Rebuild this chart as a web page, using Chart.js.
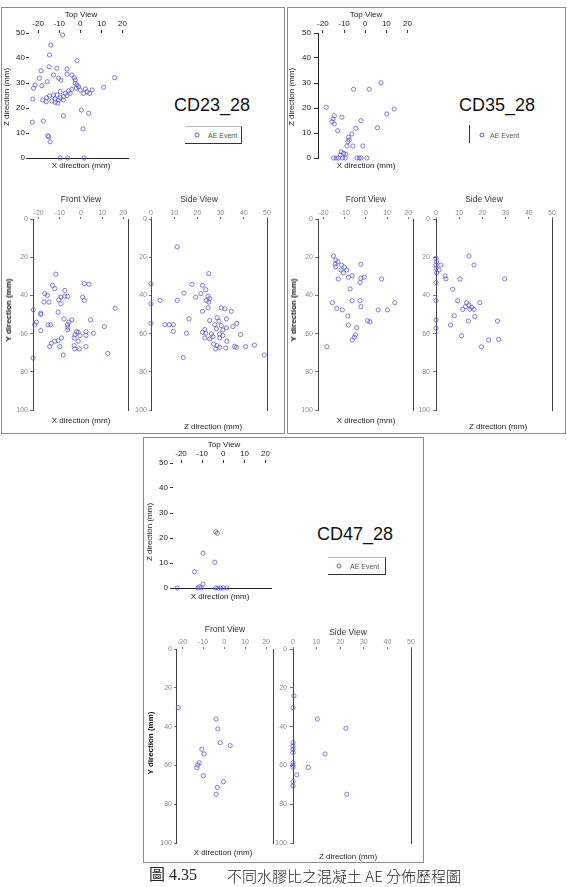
<!DOCTYPE html>
<html><head><meta charset="utf-8">
<script src="https://cdn.jsdelivr.net/npm/chart.js@4.4.1/dist/chart.umd.min.js"></script>
<style>
html,body{margin:0;padding:0;background:#fff;}
#page{position:relative;width:567px;height:887px;overflow:hidden;font-family:"Liberation Sans",Arial,sans-serif;background:#fff;}
.t{position:absolute;transform:translate(-50%,-50%);white-space:nowrap;line-height:1;}
.r{position:absolute;transform:translate(-50%,-50%) rotate(-90deg);white-space:nowrap;line-height:1;}
.panel{position:absolute;border:1px solid #8c8c8c;box-sizing:border-box;}
canvas{position:absolute;}
.lg{position:absolute;box-sizing:border-box;}
.mk{position:absolute;width:3px;height:3px;border:1px solid #5a5ae0;border-radius:50%;transform:translate(-50%,-50%);}
.lt{position:absolute;font-size:7px;color:#555;transform:translateY(-50%);white-space:nowrap;}
</style></head><body><div id="page"></div>
<script>
// ---------- data ----------
const specimens = ['CD23_28', 'CD35_28', 'CD47_28'];
const legendLabel = 'AE Event';
const viewTitles = ['Top View', 'Front View', 'Side View'];
const axisTitles = ['X direction (mm)', 'Y direction (mm)', 'Z direction (mm)'];
const xTicks = [-20, -10, 0, 10, 20];
const zTicks = [0, 10, 20, 30, 40, 50];
const yTicks = [0, 20, 40, 60, 80, 100];
const captionNo = '圖 4.35';
const captionText = '不同水膠比之混凝土 AE 分佈歷程圖';

// CD23_28 : top view (X, Z)
const cd23Top = [[-8.4,49.2],[-14,45.2],[-14.6,41.2],[-1.6,38.9],[-14.8,36.5],[-11.1,35.9],[-18.6,34.9],[-6.3,35.6],[-12.7,33.2],[-6.3,33.5],[-4,33.2],[-19.4,31.9],[-2.9,32.1],[-10.3,31.9],[-9.2,31.2],[-2.4,31.2],[-15.6,30.5],[16.3,32.1],[-2.4,29.9],[-21.4,29.2],[-18.2,28.9],[-22.2,27.9],[-1.6,29.2],[-0.8,28.5],[-1.9,27.9],[0,27.2],[11.1,28.3],[2.4,27.6],[5.6,27.2],[3.2,26.5],[4.4,25.9],[1.6,25.9],[-4,27.5],[-5.6,26.8],[-4.8,25.9],[-7.1,25.9],[-9.5,26.5],[-6.3,24.9],[-8,24.5],[-11.1,25.2],[-9.5,24.1],[-12.7,25.2],[-14.6,24.8],[-15.9,24.1],[-11.9,23.6],[-10.3,23.2],[-13.5,22.8],[-16.2,22.5],[-11.9,22.3],[-8,23.2],[-17.8,23.2],[-22.5,23.6],[-10.6,21.9],[0.5,19.2],[4,17.9],[-8,16.9],[-17.5,14.8],[-22.7,14.3],[1.3,11.6],[-15.4,8.9],[-15,8.5],[-14.3,6.5],[-9.5,0],[-6,0],[1.9,0]];
// CD23_28 : front view (X, Y)
const cd23Front = [[-11.9,28.9],[1.6,33.8],[3.8,34.2],[-13.5,34.7],[-12.4,36.5],[-7.6,37.4],[-17.1,39.1],[-15.9,40],[-9.5,40.9],[-7.6,40.5],[-6.3,40.5],[-10.5,42.3],[0.8,40.9],[1.6,42.6],[-17.5,43.5],[-15.1,43.5],[-9.5,44.4],[-22.5,47.5],[16.2,46.7],[-19,49.3],[-19,50],[-10.8,48.8],[-8,52.3],[-4.4,52.8],[-5.7,54],[4.6,52.8],[-21.1,54],[-21.9,55.3],[-15.6,55.4],[-14.3,55.4],[-6.3,55.3],[-6.3,56.7],[-6.3,58],[11.1,56.3],[-19,58.4],[-2,59],[-1.3,59.3],[2.4,59],[5.9,59.8],[-2.9,60.5],[-0.5,61],[2.4,61],[-9.2,62.3],[-3.2,62.3],[-10.8,63.7],[-12.4,64],[-1.3,64],[-14,65.1],[-10,66.8],[-14.8,66.8],[-3.2,66.3],[2.4,66.8],[-2.9,68],[-0.8,68],[-8.4,71.2],[12.7,70.4],[-22.7,72.8]];
// CD23_28 : side view (Z, Y)
const cd23Side = [[11.3,14.6],[24.9,28.6],[0,33.9],[17.7,34.2],[22.2,34.7],[23.6,37],[14.2,38.8],[21.5,39.1],[19.3,40.9],[24.6,40.5],[25.3,41.7],[23.9,42.6],[24.9,43.5],[3.9,42.6],[11.3,42.6],[0,44.4],[24.6,46.5],[30.3,46.5],[31.8,47],[34.6,48.3],[22.2,48.3],[16.4,52.3],[25.3,53.2],[28.5,51.7],[29.3,53.5],[32.5,52.3],[0,54.6],[6,55.3],[7.9,55.3],[9.6,55.3],[9.6,58.8],[15.3,59.8],[27.5,55.3],[30.3,55.8],[37,54.6],[35.3,56.3],[23.2,57.9],[28.2,57.5],[31,58.1],[32.5,57],[22.2,59.3],[23.6,59.8],[26.1,60.2],[26.7,61.6],[29.6,60.2],[31,61],[38.6,60.5],[23.2,62.3],[25.3,62.8],[29.6,62.3],[32.7,64],[27,65.4],[28.5,66.3],[29.6,67.2],[32.2,67.5],[36,66.7],[36.8,67.2],[40.8,66.8],[44.6,66],[27.9,68],[48.8,71.2],[13.9,72.5]];

// CD35_28
const cd35Top = [[-5.5,27.5],[1.9,27.5],[7.5,30.1],[-18.4,20.3],[13.7,19.6],[10.2,17.6],[-14.6,16.9],[-11,16.3],[-15.2,15.6],[-15.7,14.5],[-14.6,13.6],[-2,14.9],[-4.4,11.9],[5.8,12.1],[-13,10.9],[-6.3,9.6],[-7.9,8.3],[-7.5,7.2],[-8.2,6.5],[-8.6,4.8],[-5.8,4.8],[-1.1,4.8],[-11.3,2.5],[-10.2,1.9],[-9.1,1.5],[-11.8,1.2],[-14.9,0],[-13.7,0],[-12.6,0],[-10.7,0],[-9.4,0],[-3.9,0],[-2.8,0],[-1.9,0],[0.8,0]];
const cd35Front = [[-15.4,19.4],[-14.3,21.5],[-13.3,22.4],[-14.6,23.6],[-14.3,25],[-11.5,24.1],[-10.2,25.3],[-11.8,26.7],[-9.1,26.7],[-10.7,28.1],[-2.4,23.7],[-13.1,31.4],[-8.3,30.5],[-6.5,29.7],[-2.4,31],[-0.8,30.5],[-2.8,33.3],[7.4,31.4],[-7.5,36.6],[-15.9,43.8],[-6.5,42.8],[-2.8,42.8],[13.7,43.8],[-13.8,46.8],[-11.2,47.6],[-2.4,45.9],[5.8,47.6],[10.2,47.6],[-8.6,50.8],[0.8,53.2],[1.9,53.8],[-8.3,55.5],[-4.4,56.9],[-4.9,60.7],[-5.5,61.9],[-6.5,63.4],[-18.5,66.9]];
const cd35Side = [[14.2,19.4],[16.4,24.1],[0,20.6],[0.3,22.4],[0,24.1],[2.1,24.1],[0,25.8],[1.3,26.7],[0.3,28.1],[3.9,29.8],[4.3,31.4],[10.3,31.4],[29.6,31.4],[0,33.3],[7.2,36.8],[9.3,42.8],[0,42.8],[13.2,43.8],[14.2,45],[12.7,45.9],[15.3,46.2],[16.4,47.3],[14.6,47.3],[18.9,43.8],[11.5,47.3],[7.9,50.6],[16.7,51.1],[0,52.9],[0,57.2],[13.9,53.4],[6.3,55.5],[26.5,53.4],[11,61.1],[22.7,63.4],[27,63],[19.6,66.9]];

// CD47_28
const cd47Top = [[-3.6,22.5],[-2.8,21.9],[-9.6,13.9],[-4,10.3],[-13.6,6.5],[-9.6,1.6],[-11.2,0.5],[-10.4,0.1],[-21.8,0],[-12,0],[-3.6,0],[-2.5,0],[-1.3,0],[-0.1,0],[1.8,0]];
const cd47Front = [[-21.8,30.2],[-3.8,36.1],[-3,41.2],[-1.8,48.3],[2.9,49.8],[-10.6,51.7],[-9.5,54.1],[-11.8,58.6],[-12.5,59.8],[-13,61.2],[-9.9,65.3],[-0.3,68.4],[-3.2,71.3],[-3.8,74.9]];
const cd47Side = [[0.4,24.1],[0,30.2],[10.3,36.1],[22.4,40.9],[0,48.3],[0,50],[0,51.7],[0,53.4],[13.6,54.1],[0,58.6],[0,59.8],[0,61],[6.5,61],[1.6,64.9],[0,68.4],[0,70.6],[22.8,74.9]];

// ---------- layout ----------
const FONT = '"Liberation Sans", Arial, sans-serif';
const page = document.getElementById('page');
const MARK = '#5a5ae0';

function addText(txt, x, y, size, color, rot, extra) {
  const d = document.createElement('div');
  d.className = rot ? 'r' : 't';
  d.textContent = txt;
  d.style.left = x + 'px'; d.style.top = y + 'px';
  d.style.fontSize = size + 'px'; d.style.color = color;
  if (extra) Object.assign(d.style, extra);
  page.appendChild(d);
}
function addPanel(x, y, w, h) {
  const d = document.createElement('div');
  d.className = 'panel';
  Object.assign(d.style, {left: x + 'px', top: y + 'px', width: w + 'px', height: h + 'px'});
  page.appendChild(d);
}

const toPts = arr => arr.map(p => ({x: p[0], y: p[1]}));

function plot(o) {
  const padR = 8, padB = 9;
  const W = (o.R - o.L) + o.padL + padR;
  const H = (o.B - o.T) + o.padT + padB;
  const cv = document.createElement('canvas');
  cv.width = W; cv.height = H;
  cv.style.left = (o.L - o.padL) + 'px'; cv.style.top = (o.T - o.padT) + 'px';
  cv.style.width = W + 'px'; cv.style.height = H + 'px';
  page.appendChild(cv);
  const tickFont = {family: FONT, size: o.fs};
  new Chart(cv.getContext('2d'), {
    type: 'scatter',
    data: {datasets: [{label: legendLabel, data: toPts(o.data), pointRadius: 2.1, pointBorderWidth: 0.8,
      borderColor: MARK, pointBorderColor: MARK, backgroundColor: 'rgba(255,255,255,0)', pointBackgroundColor: 'rgba(255,255,255,0)', clip: false}]},
    options: {
      responsive: false, maintainAspectRatio: false, animation: false, devicePixelRatio: 1, events: [],
      layout: {padding: {left: 0, top: 0, right: padR, bottom: padB}},
      plugins: {legend: {display: false}, tooltip: {enabled: false}, title: {display: false}},
      scales: {
        x: {type: 'linear', position: 'top', min: o.xMin, max: o.xMax,
          afterBuildTicks: s => { s.ticks = o.xT.map(v => ({value: v})); },
          afterFit: s => { s.height = o.padT; },
          ticks: {autoSkip: false, maxRotation: 0, minRotation: 0, padding: o.xPad, color: o.lc, font: tickFont},
          grid: {display: true, drawOnChartArea: false, drawTicks: true, tickLength: o.xTl, color: o.tc, lineWidth: 1},
          border: {display: false}},
        y: {type: 'linear', position: 'left', reverse: !!o.rev, min: o.yMin, max: o.yMax,
          afterBuildTicks: s => { s.ticks = o.yT.map(v => ({value: v})); },
          afterFit: s => { s.width = o.padL; },
          ticks: {autoSkip: false, padding: o.yPad, color: o.lc, font: tickFont},
          grid: {display: true, drawOnChartArea: false, drawTicks: true, tickLength: o.yTl, color: o.tc, lineWidth: 1},
          border: {display: !!o.left, color: o.bc, width: 1}},
        x2: {axis: 'x', type: 'linear', position: 'bottom', display: !!o.bottom, min: 0, max: 1,
          afterFit: s => { s.height = 0; },
          ticks: {display: false}, grid: {display: false, drawTicks: false},
          border: {display: true, color: o.bc, width: 1}},
        y2: {axis: 'y', type: 'linear', position: 'right', display: !!o.right, min: 0, max: 1,
          afterFit: s => { s.width = 0; },
          ticks: {display: false}, grid: {display: false, drawTicks: false},
          border: {display: true, color: o.bc, width: 1}}
      }
    }
  });
}

// panels
addPanel(1, 7, 284, 427);
addPanel(287, 7, 279, 427);
addPanel(143, 437, 281, 426);

const topStyle = {fs: 8, lc: '#1a1a1a', tc: '#333', bc: '#222', padL: 30, padT: 16};
const fvStyle = {fs: 7, lc: '#8a8a8a', tc: '#777', bc: '#444', padL: 30, padT: 14, rev: true};

// ---- CD23_28 ----
plot(Object.assign({}, topStyle, {L: 29, T: 33, R: 128, B: 158, xMin: -24.3, xMax: 22.6, yMin: 0, yMax: 50, xT: xTicks, yT: zTicks,
  xTl: 3, xPad: 1, yTl: 3, yPad: 1, bottom: true, data: cd23Top}));
plot(Object.assign({}, fvStyle, {L: 33, T: 219, R: 128, B: 410, xMin: -22.7, xMax: 22.3, yMin: 0, yMax: 100, xT: xTicks, yT: yTicks,
  xTl: 2, xPad: 0, yTl: 3, yPad: 2, left: true, right: true, data: cd23Front}));
plot(Object.assign({}, fvStyle, {L: 151, T: 219, R: 267, B: 410, xMin: 0, xMax: 50, yMin: 0, yMax: 100, xT: zTicks, yT: yTicks,
  xTl: 2, xPad: 0, yTl: 2, yPad: 2, left: true, right: true, data: cd23Side}));

// ---- CD35_28 ----
plot(Object.assign({}, topStyle, {L: 318, T: 33, R: 413, B: 158, xMin: -22.3, xMax: 22.6, yMin: 0, yMax: 50, xT: xTicks, yT: zTicks,
  xTl: 3, xPad: 1, yTl: 4, yPad: 3, left: true, data: cd35Top}));
plot(Object.assign({}, fvStyle, {L: 318, T: 219, R: 413, B: 410, xMin: -22.7, xMax: 22.3, yMin: 0, yMax: 100, xT: xTicks, yT: yTicks,
  xTl: 2, xPad: 0, yTl: 3, yPad: 2, left: true, right: true, data: cd35Front}));
plot(Object.assign({}, fvStyle, {L: 436, T: 219, R: 552, B: 410, xMin: 0, xMax: 50, yMin: 0, yMax: 100, xT: zTicks, yT: yTicks,
  xTl: 2, xPad: 0, yTl: 3, yPad: 3, left: true, right: true, data: cd35Side}));

// ---- CD47_28 ----
plot(Object.assign({}, topStyle, {L: 173, T: 463, R: 271, B: 588, xMin: -23.8, xMax: 22.6, yMin: 0, yMax: 50, xT: xTicks, yT: zTicks,
  xTl: 3, xPad: 1, yTl: 3, yPad: 2, bottom: true, data: cd47Top}));
plot(Object.assign({}, fvStyle, {L: 176, T: 649, R: 273, B: 843, xMin: -22.9, xMax: 23.3, yMin: 0, yMax: 100, xT: xTicks, yT: yTicks,
  xTl: 2, xPad: 1, yTl: 2, yPad: 2, left: true, right: true, data: cd47Front}));
plot(Object.assign({}, fvStyle, {L: 293, T: 649, R: 411, B: 843, xMin: 0, xMax: 50, yMin: 0, yMax: 100, xT: zTicks, yT: yTicks,
  xTl: 2, xPad: 1, yTl: 3, yPad: 3, left: true, right: true, data: cd47Side}));

// ---- texts ----
const dark = '#1a1a1a';
[[0, 0], [285, 0]].forEach((off, i) => {
  const ox = off[0];
  addText(viewTitles[0], 81 + ox, 15, 8, dark);
  addText(axisTitles[0], 81 + ox, 166, 8, dark);
  addText(axisTitles[2], 7 + ox, 97, 8, dark, true);
  addText(specimens[i], 212 + ox, 105, 18, '#111');
  addText(viewTitles[1], 81 + ox, 199, 8.5, '#333');
  addText(viewTitles[2], 199 + ox, 199, 8.5, '#333');
  addText(axisTitles[0], 81 + ox, 421, 8, '#222');
  addText(axisTitles[2], 213 + ox, 427, 8, '#222');
  addText(axisTitles[1], 9 + ox, 310, 8, '#111', true, {fontWeight: 'bold'});
});
addText(viewTitles[0], 224, 445, 8, dark);
addText(axisTitles[0], 220, 597, 8, dark);
addText(axisTitles[2], 150, 532, 8, dark, true);
addText(specimens[2], 355, 534, 18, '#111');
addText(viewTitles[1], 225, 629, 8.5, '#333');
addText(viewTitles[2], 348, 632, 8.5, '#333');
addText(axisTitles[0], 223, 853, 8, '#222');
addText(axisTitles[2], 348, 857, 8, '#222');
addText(axisTitles[1], 151, 743, 8, '#111', true, {fontWeight: 'bold'});

// ---- legends ----
function legend(box, mx, my, tx) {
  const d = document.createElement('div');
  d.className = 'lg';
  Object.assign(d.style, box);
  page.appendChild(d);
  const m = document.createElement('div');
  m.className = 'mk'; m.style.left = mx + 'px'; m.style.top = my + 'px';
  page.appendChild(m);
  const t = document.createElement('div');
  t.className = 'lt'; t.textContent = legendLabel; t.style.left = tx + 'px'; t.style.top = my + 'px';
  page.appendChild(t);
}
legend({left: '185px', top: '126px', width: '57px', height: '18px', borderTop: '1px solid #bbb', borderRight: '1px solid #333', borderBottom: '1px solid #333'}, 197, 135, 208);
legend({left: '469px', top: '125px', width: '1px', height: '18px', borderLeft: '1px solid #333'}, 482, 135, 490);
legend({left: '328px', top: '557px', width: '58px', height: '18px', borderTop: '1px solid #bbb', borderRight: '1px solid #333', borderBottom: '1px solid #333'}, 339, 566, 350);

// ---- caption ----
addText(captionNo, 173, 875, 16, '#222', false, {fontFamily: '"Liberation Serif","Noto Sans CJK TC",serif'});
const cap = document.createElement('div');
cap.textContent = captionText;
Object.assign(cap.style, {position: 'absolute', left: '227px', top: '875px', transform: 'translateY(-50%)', fontSize: '15px', color: '#222',
  fontFamily: '"Noto Sans CJK TC","Liberation Serif",serif', whiteSpace: 'nowrap', lineHeight: '1', fontWeight: '300'});
page.appendChild(cap);
</script>
</body></html>
